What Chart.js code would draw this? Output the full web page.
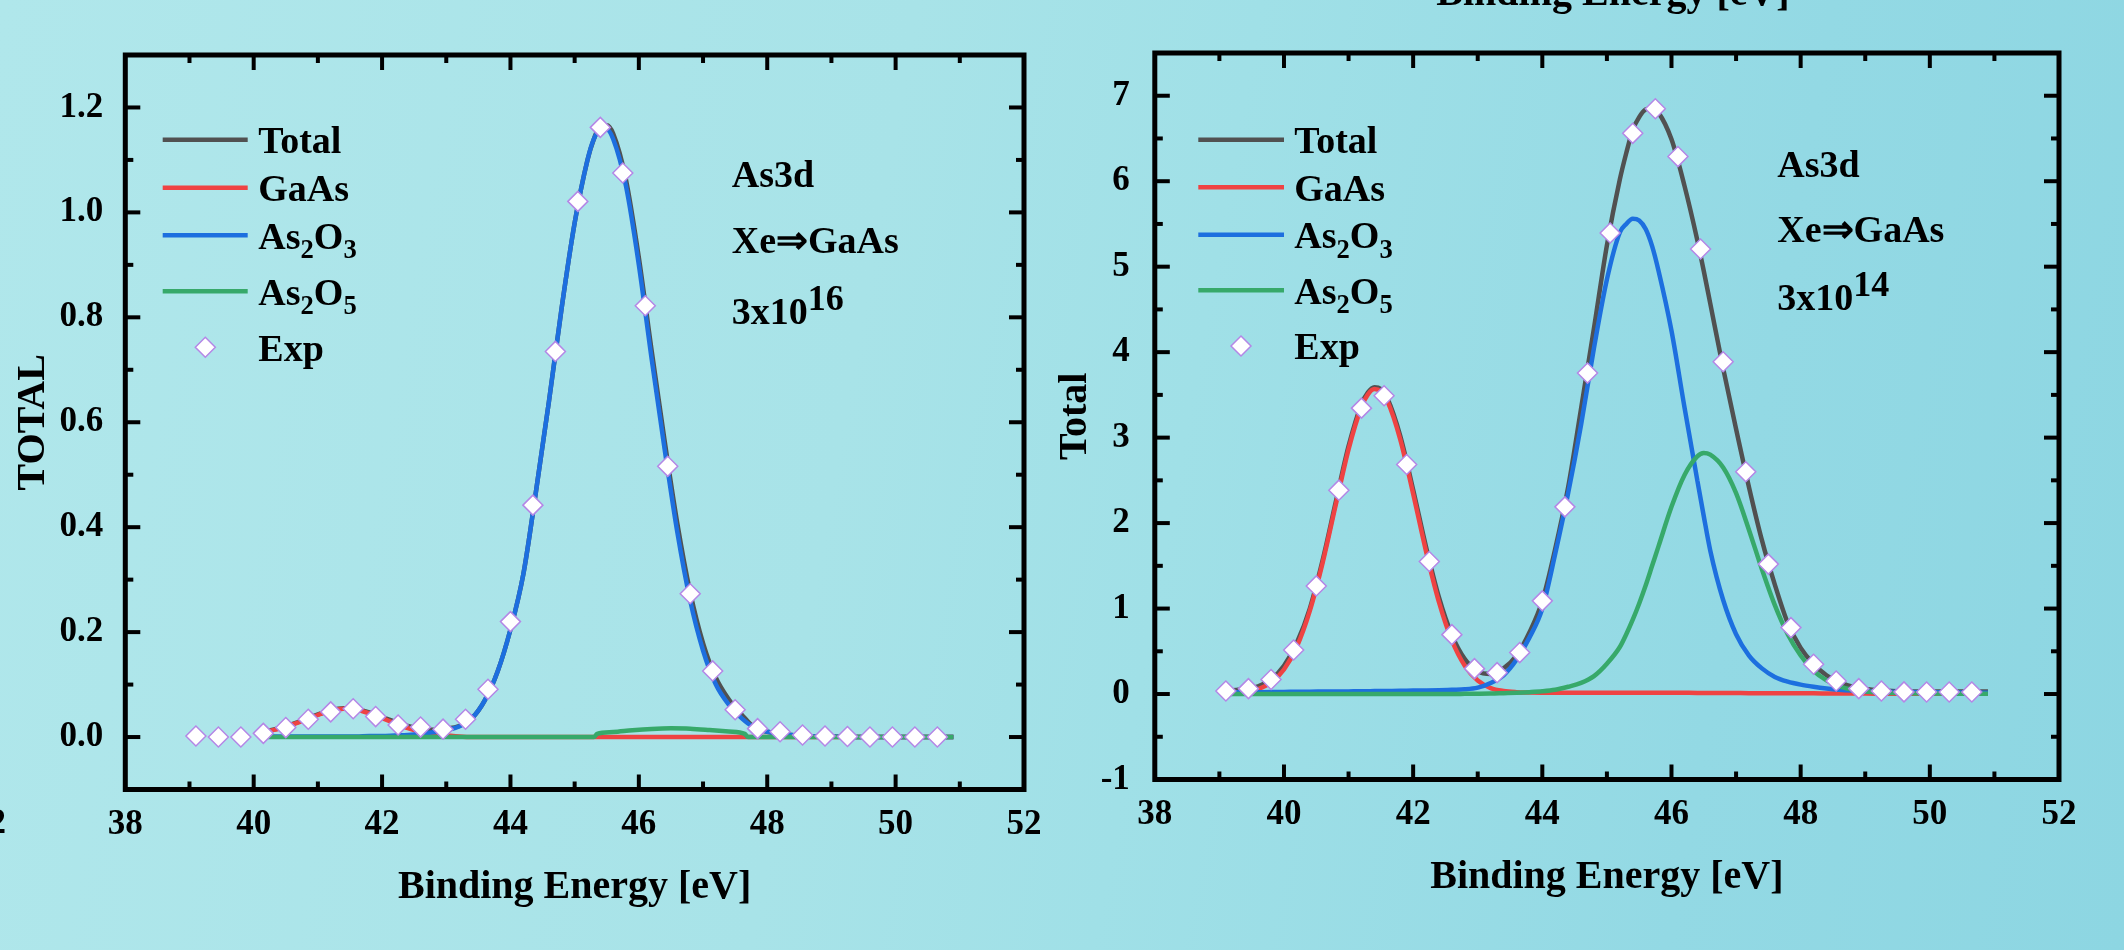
<!DOCTYPE html>
<html><head><meta charset="utf-8">
<script src="https://cdn.jsdelivr.net/npm/chart.js@4.4.0/dist/chart.umd.min.js"></script>
<style>
html,body{margin:0;padding:0;width:2124px;height:950px;overflow:hidden;}
body{position:relative;background:linear-gradient(100deg,#b0e7eb 0%,#a8e3e8 40%,#a0e0e7 55%,#93d9e4 80%,#8dd6e2 100%);}
canvas{position:absolute;top:0;}
#c1{left:0;width:1062px;height:950px;}
#c2{left:1040px;width:1084px;height:950px;}
</style></head><body>
<canvas id="c1" width="1062" height="950"></canvas>
<canvas id="c2" width="1084" height="950"></canvas>
<script>
// ---------- tick values ----------
const xMajorTicks = [38, 40, 42, 44, 46, 48, 50, 52];
const xMinorTicks = [39, 41, 43, 45, 47, 49, 51];
const leftYTicks = [0, 0.2, 0.4, 0.6, 0.8, 1.0, 1.2];
const leftYMinor = [0.1, 0.3, 0.5, 0.7, 0.9, 1.1];
const rightYTicks = [-1, 0, 1, 2, 3, 4, 5, 6, 7];
const rightYMinor = [-0.5, 0.5, 1.5, 2.5, 3.5, 4.5, 5.5, 6.5];

// ---------- series names / notes ----------
const seriesNames = ['Total', 'GaAs', 'As_2O_3', 'As_2O_5', 'Exp'];
const leftNotes = ['As3d', 'Xe\u21D2GaAs', '3x10^16'];
const rightNotes = ['As3d', 'Xe\u21D2GaAs', '3x10^14'];

// ---------- experimental points (shared energies) ----------
const expX = [39.1, 39.45, 39.8, 40.15, 40.5, 40.85, 41.2, 41.55, 41.9, 42.25, 42.6, 42.95, 43.3, 43.65, 44.0, 44.35, 44.7, 45.05, 45.4, 45.75, 46.1, 46.45, 46.8, 47.15, 47.5, 47.85, 48.2, 48.55, 48.9, 49.25, 49.6, 49.95, 50.3, 50.65];
const leftExp = [0.002, 0.0, 0.0, 0.007, 0.018, 0.034, 0.048, 0.054, 0.039, 0.023, 0.019, 0.015, 0.034, 0.091, 0.22, 0.442, 0.735, 1.021, 1.162, 1.075, 0.822, 0.516, 0.273, 0.126, 0.052, 0.016, 0.010, 0.004, 0.002, 0.001, 0.0, 0.0, 0.0, 0.0];
const rightExp = [0.035, 0.063, 0.17, 0.515, 1.265, 2.385, 3.345, 3.49, 2.686, 1.55, 0.695, 0.297, 0.25, 0.485, 1.09, 2.19, 3.755, 5.394, 6.56, 6.847, 6.288, 5.207, 3.888, 2.6, 1.52, 0.777, 0.348, 0.152, 0.063, 0.035, 0.025, 0.023, 0.023, 0.023];

// ---------- left panel fitted curves (3x10^16) ----------
const leftX = [40.1, 40.4, 40.7, 41.0, 41.2, 41.4, 41.6, 41.8, 42.0, 42.2, 42.4, 42.6, 42.8, 43.0, 43.2, 43.4, 43.6, 43.8, 44.0, 44.2, 44.4, 44.6, 44.8, 45.0, 45.2, 45.3, 45.4, 45.5, 45.6, 45.8, 46.0, 46.2, 46.4, 46.6, 46.8, 47.0, 47.2, 47.4, 47.6, 47.8, 48.0, 48.3, 48.6, 49.0, 49.5, 50.0, 50.5, 50.9];
const leftTotal = [0.009, 0.017, 0.029, 0.043, 0.051, 0.055, 0.053, 0.047, 0.038, 0.029, 0.021, 0.016, 0.014, 0.016, 0.021, 0.036, 0.07, 0.125, 0.205, 0.31, 0.47, 0.64, 0.82, 0.98, 1.10, 1.14, 1.165, 1.166, 1.15, 1.062, 0.914, 0.736, 0.566, 0.407, 0.276, 0.179, 0.113, 0.072, 0.043, 0.018, 0.01, 0.005, 0.002, 0.001, 0, 0, 0, 0];
const leftGaAs = [0.008, 0.016, 0.028, 0.042, 0.050, 0.054, 0.052, 0.045, 0.036, 0.026, 0.017, 0.010, 0.005, 0.003, 0.001, 0, 0, 0, 0, 0, 0, 0, 0, 0, 0, 0, 0, 0, 0, 0, 0, 0, 0, 0, 0, 0, 0, 0, 0, 0, 0, 0, 0, 0, 0, 0, 0, 0];
const leftAs2O3 = [0.001, 0.001, 0.001, 0.001, 0.001, 0.001, 0.001, 0.002, 0.002, 0.003, 0.004, 0.006, 0.009, 0.013, 0.02, 0.036, 0.07, 0.125, 0.205, 0.31, 0.47, 0.64, 0.82, 0.98, 1.10, 1.14, 1.158, 1.158, 1.14, 1.05, 0.90, 0.72, 0.55, 0.39, 0.26, 0.165, 0.10, 0.062, 0.036, 0.018, 0.01, 0.005, 0.002, 0.001, 0, 0, 0, 0];
const leftAs2O5X = [40.1, 45.3, 45.35, 45.6, 45.9, 46.2, 46.5, 46.8, 47.1, 47.4, 47.65, 47.7, 50.9];
const leftAs2O5 = [0, 0, 0.006, 0.0095, 0.013, 0.0155, 0.0166, 0.016, 0.0135, 0.0105, 0.006, 0, 0];

// ---------- right panel fitted curves (3x10^14) ----------
const rightX = [39.1, 39.4, 39.6, 39.8, 40.0, 40.2, 40.4, 40.6, 40.8, 41.0, 41.2, 41.3, 41.4, 41.5, 41.6, 41.8, 42.0, 42.2, 42.4, 42.6, 42.8, 43.0, 43.2, 43.4, 43.6, 43.8, 44.0, 44.2, 44.4, 44.6, 44.8, 45.0, 45.2, 45.3, 45.4, 45.5, 45.6, 45.7, 45.8, 46.0, 46.2, 46.4, 46.5, 46.6, 46.8, 47.0, 47.2, 47.4, 47.6, 47.8, 48.0, 48.2, 48.4, 48.6, 48.8, 49.0, 49.3, 49.6, 50.0, 50.5, 50.9];
const rightTotal = [0.04, 0.06, 0.09, 0.17, 0.33, 0.60, 1.00, 1.57, 2.24, 2.90, 3.39, 3.53, 3.59, 3.57, 3.46, 3.02, 2.39, 1.72, 1.13, 0.69, 0.41, 0.265, 0.235, 0.30, 0.45, 0.72, 1.09, 1.70, 2.42, 3.34, 4.28, 5.25, 6.02, 6.33, 6.60, 6.75, 6.84, 6.855, 6.80, 6.49, 5.95, 5.31, 4.95, 4.57, 3.81, 3.10, 2.42, 1.80, 1.28, 0.83, 0.54, 0.35, 0.22, 0.14, 0.085, 0.058, 0.04, 0.03, 0.03, 0.03, 0.03];
const rightGaAs = [0.004, 0.022, 0.057, 0.134, 0.287, 0.556, 0.973, 1.54, 2.208, 2.863, 3.36, 3.506, 3.568, 3.54, 3.43, 2.98, 2.344, 1.669, 1.075, 0.626, 0.33, 0.158, 0.07, 0.035, 0.022, 0.018, 0.016, 0.015, 0.015, 0.015, 0.015, 0.015, 0.015, 0.015, 0.015, 0.015, 0.015, 0.015, 0.015, 0.015, 0.014, 0.013, 0.013, 0.012, 0.012, 0.011, 0.010, 0.010, 0.009, 0.009, 0.008, 0.008, 0.007, 0.006, 0.005, 0.005, 0.004, 0.004, 0.003, 0.003, 0.003];
const rightAs2O3 = [0.020, 0.021, 0.022, 0.023, 0.025, 0.026, 0.028, 0.029, 0.030, 0.031, 0.032, 0.033, 0.034, 0.034, 0.035, 0.037, 0.040, 0.042, 0.045, 0.050, 0.055, 0.075, 0.13, 0.22, 0.40, 0.66, 1.00, 1.64, 2.35, 3.15, 4.05, 4.85, 5.40, 5.50, 5.56, 5.54, 5.44, 5.24, 4.95, 4.25, 3.36, 2.50, 2.08, 1.68, 1.10, 0.70, 0.45, 0.30, 0.20, 0.145, 0.11, 0.085, 0.065, 0.05, 0.04, 0.033, 0.027, 0.023, 0.02, 0.017, 0.015];
const rightAs2O5 = [0, 0, 0, 0, 0, 0, 0, 0, 0, 0, 0, 0, 0, 0, 0, 0, 0, 0.001, 0.001, 0.001, 0.002, 0.003, 0.005, 0.01, 0.015, 0.022, 0.032, 0.05, 0.085, 0.13, 0.21, 0.355, 0.55, 0.70, 0.87, 1.06, 1.27, 1.50, 1.73, 2.19, 2.56, 2.78, 2.82, 2.80, 2.65, 2.35, 1.92, 1.46, 1.04, 0.70, 0.45, 0.27, 0.16, 0.09, 0.05, 0.03, 0.015, 0.01, 0.005, 0.003, 0.002];

// ---------- styling ----------
const FONT = "'Liberation Serif','Times New Roman',Times,serif";
const COL = { total: '#515151', gaas: '#ef4343', as2o3: '#1d6fdf', as2o5: '#37a96a', edge: '#b487e6' };
const LW = 4.5;

function pts(xs, ys) { return xs.map((x, i) => ({ x: x, y: ys[i] })); }

function drawRich(ctx, str, x, y, size, supRaise) {
  const segs = [];
  let buf = '', i = 0;
  while (i < str.length) {
    const ch = str[i];
    if (ch === '_') { if (buf) segs.push([buf, 'n']); buf = ''; segs.push([str[i + 1], 'sub']); i += 2; continue; }
    if (ch === '^') { if (buf) segs.push([buf, 'n']); buf = ''; segs.push([str.slice(i + 1), 'sup']); i = str.length; break; }
    buf += ch; i++;
  }
  if (buf) segs.push([buf, 'n']);
  let cx = x;
  ctx.textAlign = 'left';
  ctx.textBaseline = 'alphabetic';
  segs.forEach(([t, k]) => {
    let fs = size, dy = 0;
    if (k === 'sub') { fs = size * 0.7; dy = size * 0.26; }
    if (k === 'sup') { fs = size * 0.95; dy = -supRaise; }
    ctx.font = 'bold ' + fs + 'px ' + FONT;
    ctx.fillText(t, cx, y + dy);
    cx += ctx.measureText(t).width;
  });
}

function makeDeco(o) {
  return {
    id: 'deco_' + o.id,
    afterDraw(chart) {
      const ctx = chart.ctx, a = chart.chartArea, xs = chart.scales.x, ys = chart.scales.y;
      ctx.save();
      // ticks (inward on all four sides)
      ctx.strokeStyle = '#000';
      ctx.lineCap = 'butt';
      const seg = (x1, y1, x2, y2, w) => { ctx.lineWidth = w; ctx.beginPath(); ctx.moveTo(x1, y1); ctx.lineTo(x2, y2); ctx.stroke(); };
      const MAJ = 15, MIN = 8;
      xMajorTicks.forEach(v => { if (v <= xs.min || v >= xs.max) return; const p = xs.getPixelForValue(v); seg(p, a.bottom, p, a.bottom - MAJ, 4); seg(p, a.top, p, a.top + MAJ, 4); });
      xMinorTicks.forEach(v => { const p = xs.getPixelForValue(v); seg(p, a.bottom, p, a.bottom - MIN, 4); seg(p, a.top, p, a.top + MIN, 4); });
      o.yMajor.forEach(v => { if (v <= ys.min || v >= ys.max) return; const p = ys.getPixelForValue(v); seg(a.left, p, a.left + MAJ, p, 4); seg(a.right, p, a.right - MAJ, p, 4); });
      o.yMinor.forEach(v => { const p = ys.getPixelForValue(v); seg(a.left, p, a.left + MIN, p, 4); seg(a.right, p, a.right - MIN, p, 4); });
      // frame
      ctx.lineWidth = 5;
      ctx.lineJoin = 'miter';
      ctx.strokeRect(a.left, a.top, a.right - a.left, a.bottom - a.top);

      // legend
      const L = o.legend;
      const cols = [COL.total, COL.gaas, COL.as2o3, COL.as2o5];
      ctx.fillStyle = '#000';
      for (let k = 0; k < 4; k++) {
        ctx.strokeStyle = cols[k];
        seg(L.x1, L.rows[k], L.x2, L.rows[k], LW);
      }
      // diamond for Exp
      const r = 10, dx = L.dx, dy = L.rows[4];
      ctx.beginPath();
      ctx.moveTo(dx - r, dy); ctx.lineTo(dx, dy - r); ctx.lineTo(dx + r, dy); ctx.lineTo(dx, dy + r); ctx.closePath();
      ctx.fillStyle = '#fff'; ctx.fill();
      ctx.strokeStyle = COL.edge; ctx.lineWidth = 1.5; ctx.stroke();
      ctx.fillStyle = '#000';
      seriesNames.forEach((nm, k) => drawRich(ctx, nm, L.tx, L.rows[k] + 13.3, 38, 0));

      // annotation
      o.notes.forEach((t, k) => drawRich(ctx, t, o.noteX, o.noteBase[k], 38, 14.5));

      // extra fragments (cut-off text from neighbouring panels)
      o.extra.forEach(e => {
        ctx.font = 'bold ' + e.size + 'px ' + FONT;
        ctx.textAlign = e.align; ctx.textBaseline = e.baseline;
        ctx.fillText(e.text, e.x, e.y);
      });
      ctx.restore();
    }
  };
}

function lineDS(label, xs, ys, color) {
  return { label: label, data: pts(xs, ys), borderColor: color, backgroundColor: color, borderWidth: LW, pointRadius: 0, pointHoverRadius: 0, fill: false, cubicInterpolationMode: 'monotone' };
}

function makeChart(id, o) {
  return new Chart(document.getElementById(id), {
    type: 'line',
    data: {
      datasets: [
        { label: 'Exp', data: pts(expX, o.exp), showLine: false, pointStyle: 'rectRot', pointRadius: 10, pointHoverRadius: 10, pointBorderWidth: 1.5, pointBackgroundColor: '#ffffff', pointBorderColor: COL.edge },
        lineDS('As2O5', o.greenX, o.green, COL.as2o5),
        lineDS('As2O3', o.lx, o.blue, COL.as2o3),
        lineDS('GaAs', o.lx, o.red, COL.gaas),
        lineDS('Total', o.lx, o.total, COL.total)
      ]
    },
    options: {
      responsive: false,
      animation: false,
      devicePixelRatio: 1,
      layout: { padding: { left: 0, top: o.padTop, right: o.padRight, bottom: 0 } },
      plugins: { legend: { display: false }, tooltip: { enabled: false }, title: { display: false } },
      scales: {
        x: {
          type: 'linear', min: 38, max: 52,
          afterBuildTicks: ax => { ax.ticks = xMajorTicks.map(v => ({ value: v })); },
          afterFit: s => { s.height = o.xHeight; },
          grid: { display: false, drawTicks: false },
          border: { display: false },
          ticks: { color: '#000', font: { family: FONT, size: 35, weight: 'bold', lineHeight: 1.2 }, padding: 14, maxRotation: 0, autoSkip: false, callback: v => String(v) },
          title: { display: true, text: 'Binding Energy [eV]', color: '#000', font: { family: FONT, size: 40, weight: 'bold', lineHeight: 1.2 }, padding: { top: 0, bottom: o.xTitlePad } }
        },
        y: {
          type: 'linear', min: o.ymin, max: o.ymax,
          afterBuildTicks: ax => { ax.ticks = o.yMajor.map(v => ({ value: v })); },
          afterFit: s => { s.width = o.yWidth; },
          grid: { display: false, drawTicks: false },
          border: { display: false },
          ticks: { color: '#000', font: { family: FONT, size: 35, weight: 'bold', lineHeight: 1.2 }, padding: o.yPad, autoSkip: false, callback: o.fmt },
          title: { display: true, text: o.yTitle, color: '#000', font: { family: FONT, size: 40, weight: 'bold', lineHeight: 1.2 }, padding: { top: o.yTitlePad, bottom: 0 } }
        }
      }
    },
    plugins: [makeDeco(o)]
  });
}

makeChart('c1', {
  id: 'left', exp: leftExp, lx: leftX, total: leftTotal, red: leftGaAs, blue: leftAs2O3, greenX: leftAs2O5X, green: leftAs2O5,
  ymin: -0.1, ymax: 1.3, yMajor: leftYTicks, yMinor: leftYMinor, fmt: v => Number(v).toFixed(1),
  padTop: 55, padRight: 38, xHeight: 160.5, yWidth: 125.3, xTitlePad: 38, yPad: 22, yTitlePad: 9.5, yTitle: 'TOTAL',
  legend: { x1: 162.7, x2: 247.7, tx: 258.3, rows: [139.7, 187.7, 235.3, 291.3, 347.3], dx: 205.3 },
  notes: leftNotes, noteX: 731.7, noteBase: [186.7, 253.3, 324],
  extra: [{ text: '52', x: 6, y: 823.5, align: 'right', baseline: 'middle', size: 35 }]
});

makeChart('c2', {
  id: 'right', exp: rightExp, lx: rightX, total: rightTotal, red: rightGaAs, blue: rightAs2O3, greenX: rightX, green: rightAs2O5,
  ymin: -1, ymax: 7.5, yMajor: rightYTicks, yMinor: rightYMinor, fmt: v => String(v),
  padTop: 53, padRight: 65, xHeight: 170.5, yWidth: 114.8, xTitlePad: 48, yPad: 25, yTitlePad: 12, yTitle: 'Total',
  legend: { x1: 158.3, x2: 244, tx: 254.3, rows: [139.7, 187.3, 234.7, 290.3, 346], dx: 201 },
  notes: rightNotes, noteX: 737.3, noteBase: [176.7, 242.3, 310],
  extra: [{ text: 'Binding Energy [eV]', x: 573, y: 5, align: 'center', baseline: 'alphabetic', size: 40 }]
});
</script>
</body></html>
